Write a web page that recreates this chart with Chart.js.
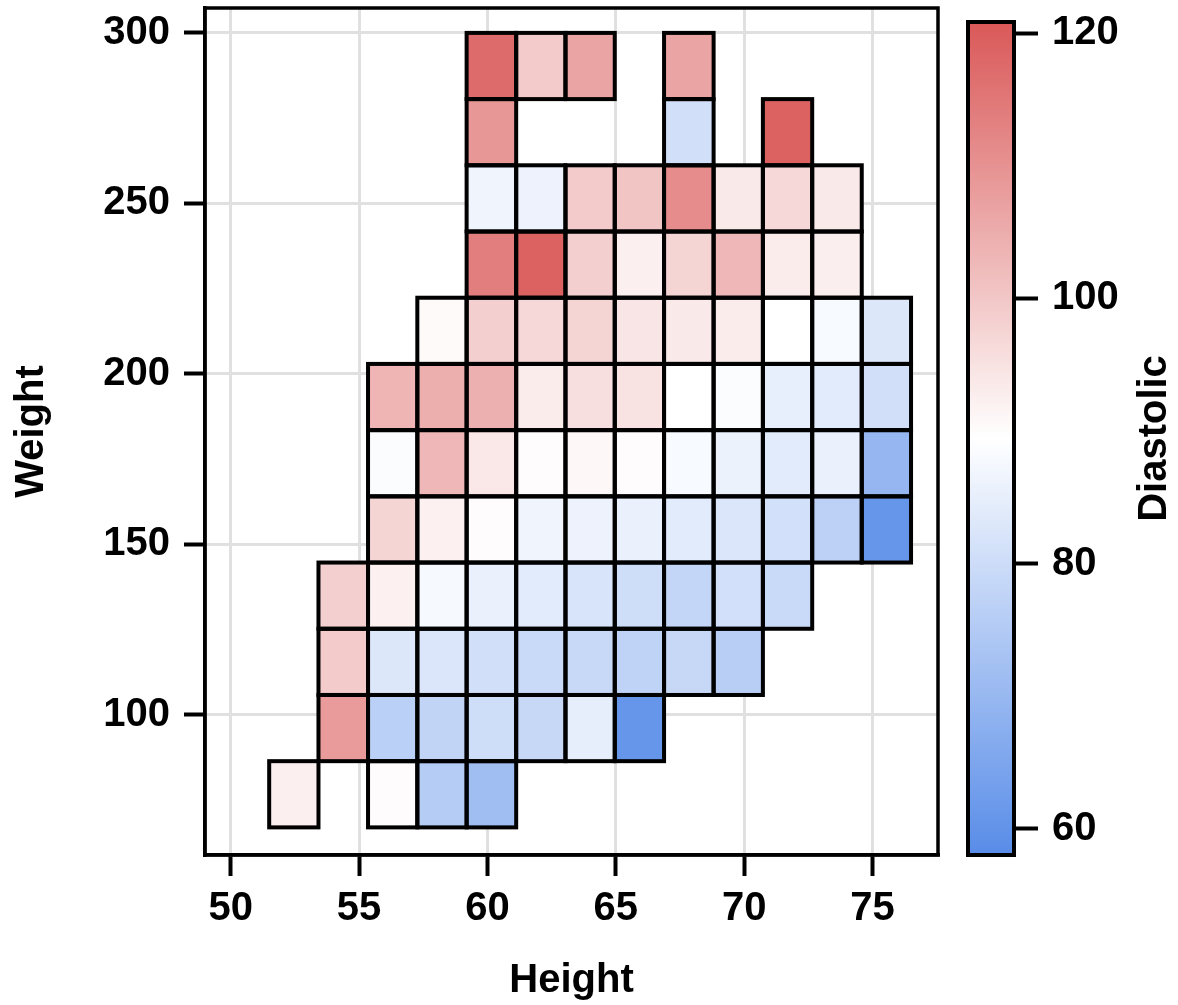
<!DOCTYPE html>
<html>
<head>
<meta charset="utf-8">
<title>Diastolic by Height and Weight</title>
<script src="https://cdn.jsdelivr.net/npm/chart.js@4.4.1/dist/chart.umd.min.js"></script>
<style>
  body { margin: 0; background: #fff; }
  #wrap { position: relative; width: 1178px; height: 1005px; }
  #wrap canvas { position: absolute; left: 0; top: 0; }
</style>
</head>
<body>
<div id="wrap">
  <canvas id="heatmap" width="1178" height="1005"></canvas>
  <canvas id="colorbar" width="1178" height="1005"></canvas>
</div>
<script>
// Bin edges (Height on x, Weight on y)
const heightEdges = [51.50, 53.42, 55.35, 57.27, 59.19, 61.12, 63.04, 64.96, 66.88, 68.81, 70.73, 72.65, 74.58, 76.50];
const weightEdges = [67.00, 86.42, 105.83, 125.25, 144.67, 164.08, 183.50, 202.92, 222.33, 241.75, 261.17, 280.58, 300.00];

// Tick labels
const heightTicks = [50, 55, 60, 65, 70, 75];
const weightTicks = [100, 150, 200, 250, 300];
const diastolicTicks = [60, 80, 100, 120];

// Mean diastolic per cell, one row per weight bin (lowest weight first), one column per height bin
const diastolic = [
  [92.5, null, 90.0, 75.5, 71.7, null, null, null, null, null, null, null, null],
  [null, 108.3, 76.5, 77.8, 80.2, 78.9, 84.8, 60.7, null, null, null, null, null],
  [null, 99.3, 83.0, 82.6, 80.7, 79.2, 79.0, 77.4, 78.9, 76.0, null, null, null],
  [null, 98.4, 92.2, 87.8, 85.4, 83.9, 82.0, 80.2, 78.3, 81.1, 79.2, null, null],
  [null, null, 97.5, 92.2, 90.0, 86.7, 86.0, 85.4, 84.0, 82.6, 81.1, 77.0, 60.7],
  [null, null, 88.5, 103.0, 94.0, 90.0, 91.0, 90.0, 88.0, 85.8, 84.0, 85.4, 69.5],
  [null, null, 103.3, 104.7, 104.3, 93.0, 95.4, 94.9, 89.5, 88.5, 85.2, 83.9, 80.7],
  [null, null, null, 90.4, 98.4, 96.7, 97.5, 94.3, 93.6, 93.0, 89.5, 88.0, 83.0],
  [null, null, null, null, 113.6, 118.9, 98.4, 92.5, 97.5, 103.0, 93.0, 92.7, null],
  [null, null, null, null, 86.4, 86.0, 99.3, 100.3, 111.0, 93.6, 96.7, 93.6, null],
  [null, null, null, null, 109.0, null, null, null, 80.7, null, 119.0, null, null],
  [null, null, null, null, 117.3, 99.3, 106.5, null, 106.5, null, null, null, null],
];

// Colour scale range
const colorMin = 58.04;
const colorMax = 120.83;

(() => {
  const lowRgb = [88, 140, 232];
  const midRgb = [255, 255, 255];
  const highRgb = [218, 88, 88];
  const colorMid = (colorMin + colorMax) / 2;

  const mix = (a, b, t) => a.map((v, i) => Math.round(v + (b[i] - v) * t));
  const colorFor = (v) => {
    let rgb;
    if (v >= colorMid) rgb = mix(midRgb, highRgb, Math.min(1, (v - colorMid) / (colorMax - colorMid)));
    else rgb = mix(midRgb, lowRgb, Math.min(1, (colorMid - v) / (colorMid - colorMin)));
    return `rgb(${rgb.join(',')})`;
  };

  const tickFont = { family: '"Liberation Sans", Arial, sans-serif', size: 40, weight: 'bold', lineHeight: 1.2 };
  const titleFont = { family: '"Liberation Sans", Arial, sans-serif', size: 40, weight: 'bold', lineHeight: 1.2 };

  // Keep the chart area where we put it (no label overhang padding)
  const noOverhang = (s) => {
    s.paddingTop = 0;
    s.paddingBottom = 0;
    s.paddingLeft = 0;
    s.paddingRight = 0;
  };

  // Draw the cells and the plot frame
  const heatmapCells = {
    id: 'heatmapCells',
    afterDatasetsDraw(chart) {
      const { ctx, chartArea, scales: { x, y } } = chart;
      const rects = [];
      diastolic.forEach((row, r) => {
        row.forEach((v, c) => {
          if (v === null) return;
          const left = x.getPixelForValue(heightEdges[c]);
          const right = x.getPixelForValue(heightEdges[c + 1]);
          const top = y.getPixelForValue(weightEdges[r + 1]);
          const bottom = y.getPixelForValue(weightEdges[r]);
          rects.push([left, top, right - left, bottom - top, v]);
        });
      });
      ctx.save();
      rects.forEach(([l, t, w, h, v]) => {
        ctx.fillStyle = colorFor(v);
        ctx.fillRect(l, t, w, h);
      });
      ctx.lineWidth = 4;
      ctx.strokeStyle = '#000';
      rects.forEach(([l, t, w, h]) => ctx.strokeRect(l, t, w, h));
      ctx.lineWidth = 3.5;
      ctx.strokeRect(chartArea.left, chartArea.top, chartArea.width, chartArea.height);
      ctx.restore();
    },
  };

  // Gradient bar and its title
  const colorbarBar = {
    id: 'colorbarBar',
    afterDraw(chart) {
      const { ctx, chartArea: a, scales: { y } } = chart;
      const grad = ctx.createLinearGradient(0, y.getPixelForValue(colorMax), 0, y.getPixelForValue(colorMin));
      grad.addColorStop(0, colorFor(colorMax));
      grad.addColorStop(0.5, colorFor((colorMin + colorMax) / 2));
      grad.addColorStop(1, colorFor(colorMin));
      ctx.save();
      ctx.fillStyle = grad;
      ctx.fillRect(a.left, a.top, a.width, a.height);
      ctx.lineWidth = 4;
      ctx.strokeStyle = '#000';
      ctx.strokeRect(a.left, a.top, a.width, a.height);
      ctx.translate(1155, (a.top + a.bottom) / 2);
      ctx.rotate(-Math.PI / 2);
      ctx.font = `bold ${titleFont.size}px ${titleFont.family}`;
      ctx.fillStyle = '#000';
      ctx.textAlign = 'center';
      ctx.textBaseline = 'middle';
      ctx.fillText('Diastolic', 0, 0);
      ctx.restore();
    },
  };

  new Chart(document.getElementById('heatmap'), {
    type: 'scatter',
    data: { datasets: [{ data: [] }] },
    options: {
      responsive: false,
      animation: false,
      layout: { autoPadding: false, padding: { top: 8, right: 240, left: 0, bottom: 0 } },
      plugins: { legend: { display: false }, tooltip: { enabled: false } },
      scales: {
        x: {
          type: 'linear',
          min: 49.0,
          max: 77.55,
          afterBuildTicks: (s) => { s.ticks = heightTicks.map((v) => ({ value: v })); },
          afterFit: (s) => { s.height = 150; noOverhang(s); },
          grid: { color: '#e0e0e0', lineWidth: 3, tickColor: '#000', tickWidth: 4, tickLength: 21 },
          border: { color: '#000', width: 3.5 },
          ticks: { color: '#000', font: tickFont, padding: 9, maxRotation: 0, autoSkip: false },
          title: { display: true, text: 'Height', color: '#000', font: titleFont, padding: { top: 0, bottom: 0 } },
        },
        y: {
          type: 'linear',
          min: 58.9,
          max: 307.3,
          afterBuildTicks: (s) => { s.ticks = weightTicks.map((v) => ({ value: v })); },
          afterFit: (s) => { s.width = 205; noOverhang(s); },
          grid: { color: '#e0e0e0', lineWidth: 3, tickColor: '#000', tickWidth: 4, tickLength: 21 },
          border: { color: '#000', width: 3.5 },
          ticks: { color: '#000', font: tickFont, padding: 14, autoSkip: false },
          title: { display: true, text: 'Weight', color: '#000', font: titleFont, padding: { top: 8, bottom: 0 } },
        },
      },
    },
    plugins: [heatmapCells],
  });

  new Chart(document.getElementById('colorbar'), {
    type: 'scatter',
    data: { datasets: [{ data: [] }] },
    options: {
      responsive: false,
      animation: false,
      layout: { autoPadding: false, padding: { top: 22, right: 0, left: 968, bottom: 150 } },
      plugins: { legend: { display: false }, tooltip: { enabled: false } },
      scales: {
        x: { display: false },
        y: {
          type: 'linear',
          position: 'right',
          min: colorMin,
          max: colorMax,
          afterBuildTicks: (s) => { s.ticks = diastolicTicks.map((v) => ({ value: v })); },
          afterFit: (s) => { s.width = 164; noOverhang(s); },
          grid: { drawOnChartArea: false, tickColor: '#000', tickWidth: 4, tickLength: 24 },
          border: { display: false },
          ticks: { color: '#000', font: tickFont, padding: 14, autoSkip: false },
        },
      },
    },
    plugins: [colorbarBar],
  });
})();
</script>
</body>
</html>
